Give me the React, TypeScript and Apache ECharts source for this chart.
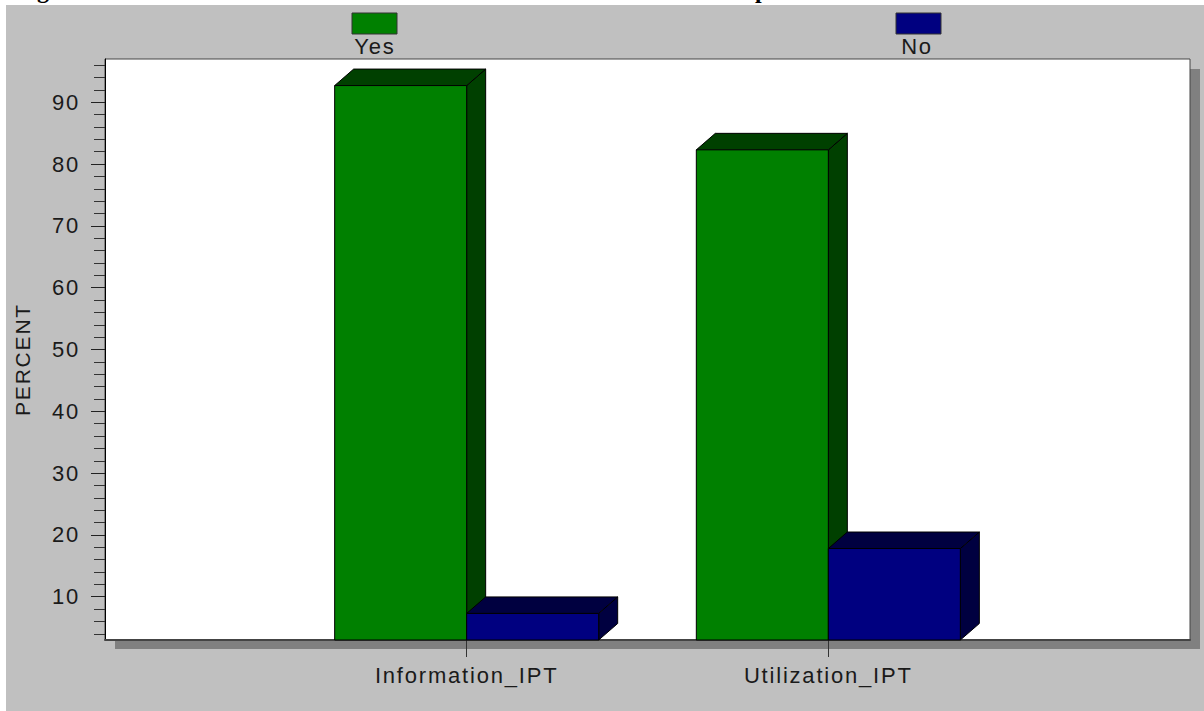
import React, { useEffect, useRef } from "react";
import * as echarts from "echarts";

const categories = ["", "Information_IPT", "Utilization_IPT", ""];
const groupLabels = ["Information_IPT", "Utilization_IPT"];
const yesValues = [92.7, 82.3];
const noValues = [7.3, 17.8];
const majorTicks = [10, 20, 30, 40, 50, 60, 70, 80, 90];
const minorTicks = [4, 6, 8, 12, 14, 16, 18, 22, 24, 26, 28, 32, 34, 36, 38, 42, 44, 46, 48, 52, 54, 56, 58, 62, 64, 66, 68, 72, 74, 76, 78, 82, 84, 86, 88, 92, 94, 96];
const Y_MIN = 3;
const Y_MAX = 97;

const FONT = "'Liberation Sans', Arial, sans-serif";
const TEXT = "#1a1a1a";
const DEPTH_X = 19;
const DEPTH_Y = 16.5;
const BAR_RATIO = 0.365;

function bar3d(side: number, front: string, dark: string) {
  return (_p: any, api: any) => {
    const x = api.value(0);
    const v = api.value(1);
    const top = api.coord([x, v]);
    const base = api.coord([x, Y_MIN]);
    const w = api.size([1, 0])[0] * BAR_RATIO;
    const x0 = side < 0 ? top[0] - w : top[0];
    const x1 = x0 + w;
    const yt = top[1];
    const yb = base[1];
    const line = { stroke: "#000", lineWidth: 1 };
    return {
      type: "group",
      children: [
        {
          type: "polygon",
          shape: { points: [[x1, yb], [x1 + DEPTH_X, yb - DEPTH_Y], [x1 + DEPTH_X, yt - DEPTH_Y], [x1, yt]] },
          style: { fill: dark, ...line },
        },
        {
          type: "polygon",
          shape: { points: [[x0, yt], [x0 + DEPTH_X, yt - DEPTH_Y], [x1 + DEPTH_X, yt - DEPTH_Y], [x1, yt]] },
          style: { fill: dark, ...line },
        },
        {
          type: "rect",
          shape: { x: x0, y: yt, width: w, height: yb - yt },
          style: { fill: front, ...line },
        },
      ],
    };
  };
}

function legendItem(x: number, color: string, label: string, labelX: number) {
  return [
    {
      type: "rect",
      z: 5,
      shape: { x, y: 13, width: 45, height: 21 },
      style: { fill: color, stroke: "#333", lineWidth: 1 },
    },
    {
      type: "text",
      z: 5,
      style: { x: labelX, y: 46, text: label, fill: TEXT, font: `22px ${FONT}`, textAlign: "center", textVerticalAlign: "middle" },
    },
  ];
}

export default function App() {
  const ref = useRef<HTMLDivElement>(null);
  useEffect(() => {
    document.body.style.margin = "0";
    const chart = echarts.init(ref.current!, undefined, { renderer: "svg" });
    const axisText = { color: TEXT, fontFamily: FONT, fontSize: 22 };
    chart.setOption({
      animation: false,
      backgroundColor: "transparent",
      grid: { left: 105, right: 14, top: 59, bottom: 71, show: true, backgroundColor: "#fff", borderColor: "#444", borderWidth: 1, containLabel: false, outerBoundsMode: "none" },
      xAxis: {
        type: "category",
        boundaryGap: false,
        data: categories,
        axisLine: { lineStyle: { color: "#444", width: 2 } },
        axisTick: { length: 17, lineStyle: { color: "#333" }, interval: (i: number) => i === 1 || i === 2 },
        axisLabel: { ...axisText, margin: 24, interval: 0 },
        splitLine: { show: false },
      },
      yAxis: [
        {
          type: "value",
          min: Y_MIN,
          max: Y_MAX,
          name: "PERCENT",
          nameLocation: "middle",
          nameGap: 72,
          nameTextStyle: { ...axisText, fontSize: 21, padding: [0, 20, 0, 0] },
          axisLine: { show: true, lineStyle: { color: "#000" } },
          axisTick: { show: true, length: 14, lineStyle: { color: "#222" }, customValues: majorTicks },
          axisLabel: { ...axisText, margin: 25, customValues: majorTicks },
          splitLine: { show: false },
        },
        {
          type: "value",
          position: "left",
          min: Y_MIN,
          max: Y_MAX,
          axisLine: { show: false },
          axisTick: { show: true, length: 11, lineStyle: { color: "#333" }, customValues: minorTicks },
          axisLabel: { show: false },
          splitLine: { show: false },
        },
      ],
      graphic: [
        { type: "rect", z: -3, silent: true, shape: { x: 6, y: 5, width: 1198, height: 706 }, style: { fill: "#c0c0c0" } },
        { type: "rect", z: -2, silent: true, shape: { x: 115, y: 69, width: 1085, height: 580 }, style: { fill: "#808080" } },
        { type: "text", z: -4, style: { x: 12, y: -22, text: "Figure", fill: "#000", font: `bold 24px 'Liberation Serif', serif` } },
        { type: "text", z: -4, style: { x: 755, y: -22, text: "p", fill: "#000", font: `bold 24px 'Liberation Serif', serif` } },
        ...legendItem(352, "#008000", "Yes", 375),
        ...legendItem(896, "#000080", "No", 917),
      ],
      series: [
        {
          name: "Yes",
          type: "custom",
          yAxisIndex: 0,
          clip: false,
          renderItem: bar3d(-1, "#008000", "#004000"),
          encode: { x: 0, y: 1 },
          data: groupLabels.map((c, i) => [c, yesValues[i]]),
          z: 3,
        },
        {
          name: "No",
          type: "custom",
          yAxisIndex: 0,
          clip: false,
          renderItem: bar3d(1, "#000080", "#000040"),
          encode: { x: 0, y: 1 },
          data: groupLabels.map((c, i) => [c, noValues[i]]),
          z: 4,
        },
      ],
    });
    return () => chart.dispose();
  }, []);
  return (
    <>
      <style>{`#chart text { letter-spacing: 1.8px; }`}</style>
      <div id="chart" ref={ref} style={{ width: 1204, height: 711 }} />
    </>
  );
}
